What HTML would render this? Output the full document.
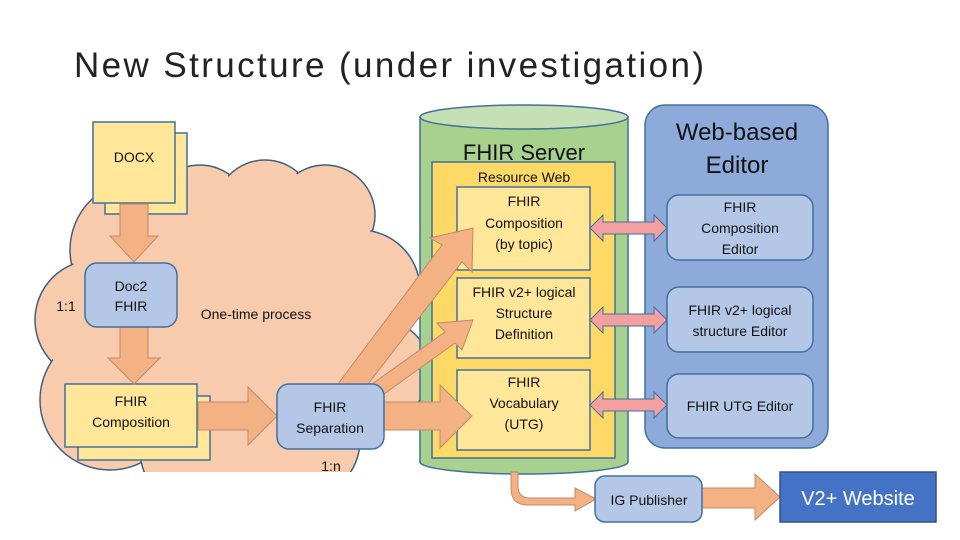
<!DOCTYPE html>
<html><head><meta charset="utf-8"><style>
html,body{margin:0;padding:0;background:#fff;}
svg{display:block;font-family:"Liberation Sans",sans-serif;}
</style></head><body>
<svg width="960" height="540" viewBox="0 0 960 540" xmlns="http://www.w3.org/2000/svg">
<text x="74" y="77" font-size="35" fill="#222" textLength="630" lengthAdjust="spacing">New Structure (under investigation)</text>

<!-- cloud -->
<g fill="#f8cbad" stroke="#3f5f80" stroke-width="1.5">
<circle cx="140" cy="250" r="70"/>
<circle cx="95" cy="320" r="60"/>
<circle cx="110" cy="400" r="70"/>
<circle cx="200" cy="215" r="50"/>
<circle cx="265" cy="210" r="50"/>
<circle cx="325" cy="215" r="50"/>
<circle cx="360" cy="290" r="60"/>
<circle cx="380" cy="370" r="50"/>
<circle cx="300" cy="440" r="60"/>
<circle cx="200" cy="450" r="60"/>
</g>
<g fill="#f8cbad">
<rect x="130" y="240" width="240" height="200"/>
<circle cx="140" cy="250" r="68"/>
<circle cx="95" cy="320" r="58"/>
<circle cx="110" cy="400" r="68"/>
<circle cx="200" cy="215" r="48"/>
<circle cx="265" cy="210" r="48"/>
<circle cx="325" cy="215" r="48"/>
<circle cx="360" cy="290" r="58"/>
<circle cx="380" cy="370" r="48"/>
<circle cx="300" cy="440" r="58"/>
<circle cx="200" cy="450" r="58"/>
</g>
<rect x="0" y="472" width="420" height="68" fill="#fff"/>

<!-- cylinder -->
<path d="M420 117 L420 462 A104 12 0 0 0 628 462 L628 117 Z" fill="#a9d18e" stroke="#41719c" stroke-width="1.5"/>
<ellipse cx="524" cy="117" rx="104" ry="12" fill="#c5e0b4" stroke="#41719c" stroke-width="1.5"/>
<text x="524" y="160" font-size="22" text-anchor="middle" fill="#111">FHIR Server</text>
<rect x="432" y="162" width="183" height="296" fill="#ffd966" stroke="#41719c" stroke-width="1.5"/>
<text x="524" y="182" font-size="14" text-anchor="middle" fill="#111">Resource Web</text>

<!-- web editor -->
<rect x="645" y="105" width="183" height="343" rx="20" fill="#8eaadb" stroke="#41719c" stroke-width="1.5"/>
<text x="737" y="140" font-size="24" text-anchor="middle" fill="#111">Web-based</text>
<text x="737" y="173" font-size="24" text-anchor="middle" fill="#111">Editor</text>
<g fill="#b4c7e7" stroke="#41719c" stroke-width="1.5">
<rect x="667" y="195" width="146" height="65" rx="12"/>
<rect x="667" y="287" width="146" height="65" rx="12"/>
<rect x="667" y="374" width="146" height="64" rx="12"/>
</g>
<g font-size="14" text-anchor="middle" fill="#111">
<text x="740" y="212">FHIR</text><text x="740" y="233">Composition</text><text x="740" y="254">Editor</text>
<text x="740" y="315">FHIR v2+ logical</text><text x="740" y="336">structure Editor</text>
<text x="740" y="411">FHIR UTG Editor</text>
</g>

<!-- docs -->
<g stroke="#41719c" stroke-width="1.5">
<rect x="105" y="133" width="82" height="81" fill="#ffe699"/>
<rect x="93" y="122" width="82" height="81" fill="#ffe699"/>
<rect x="78" y="396" width="132" height="64" fill="#ffe699"/>
<rect x="65" y="384" width="132" height="63" fill="#ffe699"/>
<rect x="457" y="187" width="133" height="83" fill="#ffe699"/>
<rect x="457" y="278" width="133" height="80" fill="#ffe699"/>
<rect x="457" y="370" width="133" height="80" fill="#ffe699"/>
</g>

<!-- orange arrows -->
<g fill="#f4b183" stroke="#c08a6a" stroke-width="1">
<polygon points="120,204 148,204 148,236 158,236 134,262 110,236 120,236"/>
<polygon points="120,327 148,327 148,358 160,358 134,384 108,358 120,358"/>
<polygon points="198,402 248,402 248,387 277,416 248,445 248,430 198,430"/>
<polygon points="384,402 440,402 440,385 472,416 440,448 440,430 384,430"/>
<polygon points="338,384 442,245 430,238 473,228 472,272 462,262 368,384"/>
<polygon points="372,384 445,332 437,323 473,320 462,350 455,343 384,394"/>
<path d="M518 472 L518 486 Q518 498 530 498 L575 498 L575 488 L596 499 L575 511 L575 505 L528 505 Q511 505 511 488 L511 472 Z"/>
<polygon points="702,488 755,488 755,474 780,497 755,520 755,508 702,508"/>
</g>

<g fill="#b4c7e7" stroke="#41719c" stroke-width="1.5">
<rect x="85" y="263" width="92" height="64" rx="12"/>
<rect x="277" y="384" width="107" height="65" rx="12"/>
<rect x="595" y="476" width="107" height="46" rx="10"/>
</g>
<rect x="780" y="472" width="156" height="50" fill="#4472c4" stroke="#2f528f" stroke-width="1.5"/>

<!-- double arrows -->
<g fill="#f4a0a0" stroke="#41719c" stroke-width="1">
<polygon points="590,228 603,215 603,222 654,222 654,215 667,228 654,241 654,234 603,234 603,241"/>
<polygon points="590,320 603,307 603,314 654,314 654,307 667,320 654,333 654,326 603,326 603,333"/>
<polygon points="590,405 603,392 603,399 654,399 654,392 667,405 654,418 654,411 603,411 603,418"/>
</g>

<g font-size="14" text-anchor="middle" fill="#111">
<text x="134" y="162">DOCX</text>
<text x="131" y="291">Doc2</text><text x="131" y="311">FHIR</text>
<text x="131" y="406">FHIR</text><text x="131" y="427">Composition</text>
<text x="330" y="412">FHIR</text><text x="330" y="433">Separation</text>
<text x="524" y="206">FHIR</text><text x="524" y="228">Composition</text><text x="524" y="249">(by topic)</text>
<text x="524" y="297">FHIR v2+ logical</text><text x="524" y="318">Structure</text><text x="524" y="339">Definition</text>
<text x="524" y="387">FHIR</text><text x="524" y="408">Vocabulary</text><text x="524" y="429">(UTG)</text>
<text x="649" y="505">IG Publisher</text>
<text x="66" y="311">1:1</text>
<text x="256" y="319">One-time process</text>
<text x="331" y="471">1:n</text>
</g>
<text x="858" y="505" font-size="20" text-anchor="middle" fill="#fff">V2+ Website</text>
</svg>
</body></html>
